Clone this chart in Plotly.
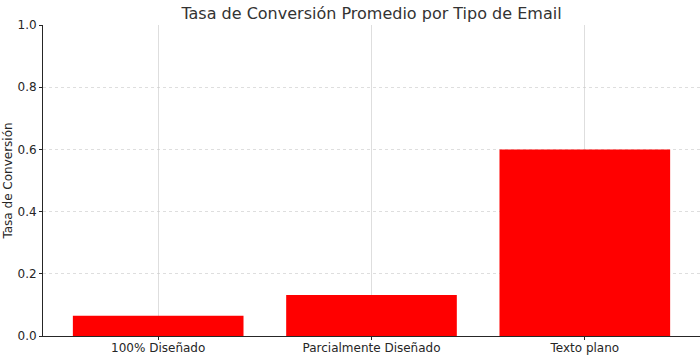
import plotly.graph_objects as go

categories = ["100% Diseñado", "Parcialmente Diseñado", "Texto plano"]
values = [0.065, 0.132, 0.600]
y_ticks = [0.0, 0.2, 0.4, 0.6, 0.8, 1.0]
y_tick_labels = ["0.0", "0.2", "0.4", "0.6", "0.8", "1.0"]

fig = go.Figure(go.Bar(
    x=[0, 1, 2], y=values, width=0.8,
    marker=dict(color="#ff0000", line=dict(width=0)),
))

fig.update_layout(
    width=700, height=356,
    margin=dict(l=43, r=0, t=25, b=20, autoexpand=False),
    paper_bgcolor="white", plot_bgcolor="white",
    font=dict(family="DejaVu Sans", size=12, color="#262626"),
    title=dict(text="Tasa de Conversión Promedio por Tipo de Email",
               xref="paper", x=0.5, xanchor="center",
               yref="container", y=0.962, yanchor="middle",
               font=dict(size=16, color="#333333")),
    showlegend=False,
)
fig.update_xaxes(
    range=[-0.54, 2.54], tickvals=[0, 1, 2], ticktext=categories,
    showgrid=True, gridcolor="rgba(200,200,200,0.6)", gridwidth=1,
    showline=True, linecolor="#262626", linewidth=1,
    ticks="outside", ticklen=3, tickcolor="#262626", ticklabelstandoff=-2,
    layer="above traces", zeroline=False, automargin=False,
)
fig.update_yaxes(
    range=[0, 1.0], tickvals=y_ticks, ticktext=y_tick_labels,
    title=dict(text="Tasa de Conversión", standoff=2, font=dict(size=12)),
    showgrid=True, gridcolor="rgba(200,200,200,0.6)", gridwidth=1, griddash="dot",
    showline=True, linecolor="#262626", linewidth=1,
    ticks="outside", ticklen=3, tickcolor="#262626",
    layer="above traces", zeroline=False, automargin=False,
)

fig.write_html("out.html", config={"displayModeBar": False},
               post_script="document.body.style.margin='0';document.body.style.overflow='hidden';")
